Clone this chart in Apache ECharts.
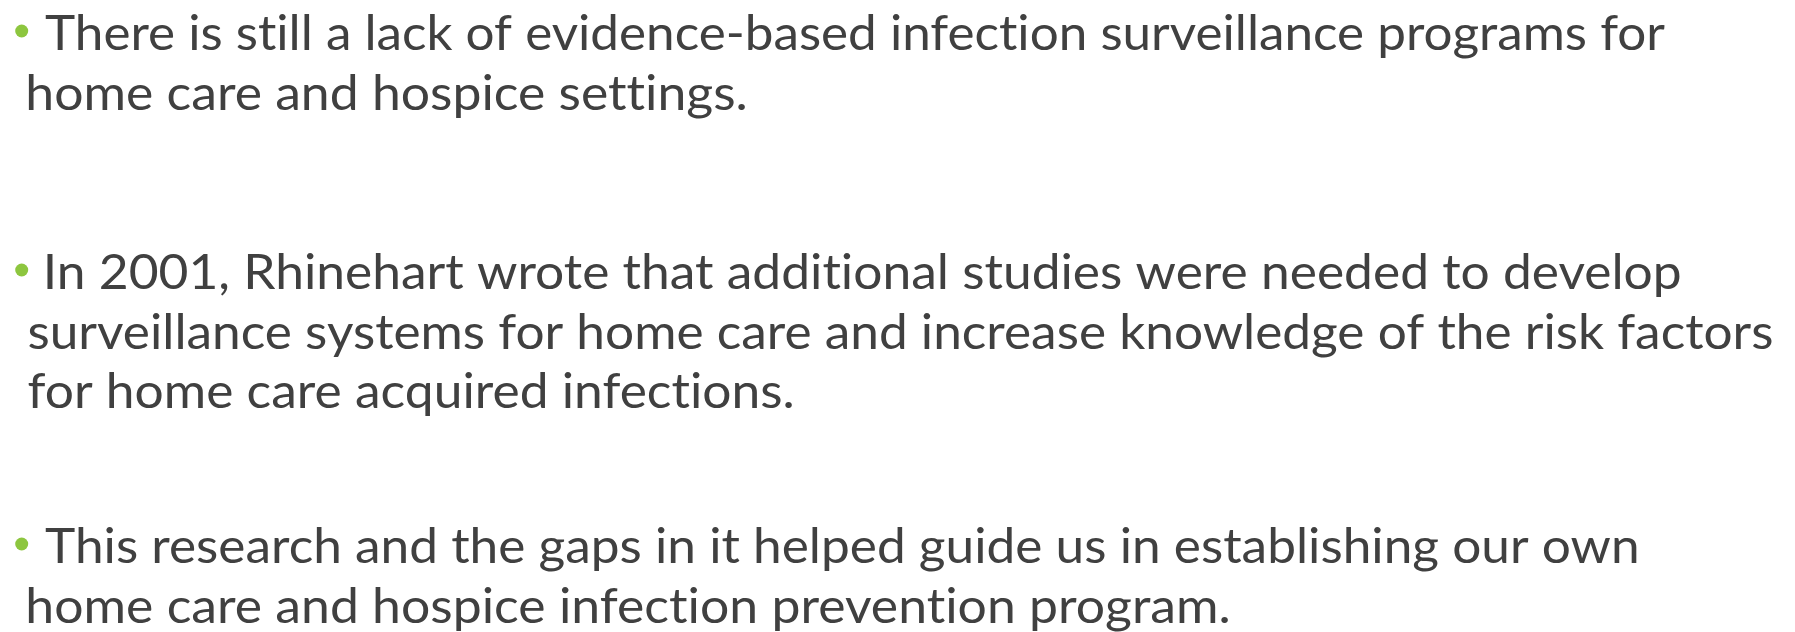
<!DOCTYPE html>
<html>
<head>
<meta charset="utf-8">
<title>Infection surveillance</title>
<script src="https://cdn.jsdelivr.net/npm/echarts@6/dist/echarts.min.js"></script>
<style>
  html, body { margin: 0; padding: 0; background: #fff; }
  #main { width: 1795px; height: 632px; }
</style>
</head>
<body>
<div id="main"></div>
<script>
// slide text, one array per bullet
const bullet1 = [
  'There is still a lack of evidence-based infection surveillance programs for',
  'home care and hospice settings.'
]
const bullet2 = [
  'In 2001, Rhinehart wrote that additional studies were needed to develop',
  'surveillance systems for home care and increase knowledge of the risk factors',
  'for home care acquired infections.'
]
const bullet3 = [
  'This research and the gaps in it helped guide us in establishing our own',
  'home care and hospice infection prevention program.'
]
const bullets = [bullet1, bullet2, bullet3]

// layout (px)
const firstBaselines = [50, 289, 563]
const lineStep = 59.5
const firstLeft = [45, 47, 45]
const wrapLeft = 28.5
const rightEnds = [[1665, 745], [1680, 1772, 792], [1637, 1228]]

const FONT = 'Lato'
const CAP = 36
const textColor = '#404040'
const bulletColor = '#8DC63F'

// Lato joins "ti", "ft" etc; the slide font does not, so break them with ZWNJ
const noLig = (s) => s.replace(/([ft])(?=[a-z])/g, '$1\u200C')

// measure the font so cap height and line widths line up
const ctx = document.createElement('canvas').getContext('2d')
ctx.font = `100px ${FONT}`
ctx.textBaseline = 'alphabetic'
const capRatio = ctx.measureText('H').actualBoundingBoxAscent / 100
const fontSize = CAP / capRatio
ctx.font = `${fontSize}px ${FONT}`
const ascAlpha = ctx.measureText('H').actualBoundingBoxAscent
ctx.textBaseline = 'middle'
const ascMid = ctx.measureText('H').actualBoundingBoxAscent
const midOffset = ascAlpha - ascMid
ctx.textBaseline = 'alphabetic'

const elements = []
bullets.forEach((lines, bi) => {
  const base0 = firstBaselines[bi]
  elements.push({
    type: 'circle',
    shape: { cx: 21.7, cy: base0 - 19, r: 6.5 },
    style: { fill: bulletColor },
  })
  lines.forEach((line, li) => {
    const txt = noLig(line)
    const m = ctx.measureText(txt)
    const left = li === 0 ? firstLeft[bi] : wrapLeft
    const right = rightEnds[bi][li]
    const ink = m.actualBoundingBoxLeft + m.actualBoundingBoxRight
    const s = (right - left) / ink
    const baseline = base0 + li * lineStep
    elements.push({
      type: 'text',
      x: left + m.actualBoundingBoxLeft * s,
      y: baseline - midOffset,
      scaleX: s,
      style: {
        text: txt,
        fontSize: fontSize,
        fontFamily: FONT,
        lineHeight: fontSize * 1.2,
        fill: textColor,
        align: 'left',
        verticalAlign: 'middle',
      },
    })
  })
})

const myChart = echarts.init(document.getElementById('main'))
myChart.setOption({
  backgroundColor: '#fff',
  animation: false,
  graphic: { elements: elements },
})
</script>
</body>
</html>
